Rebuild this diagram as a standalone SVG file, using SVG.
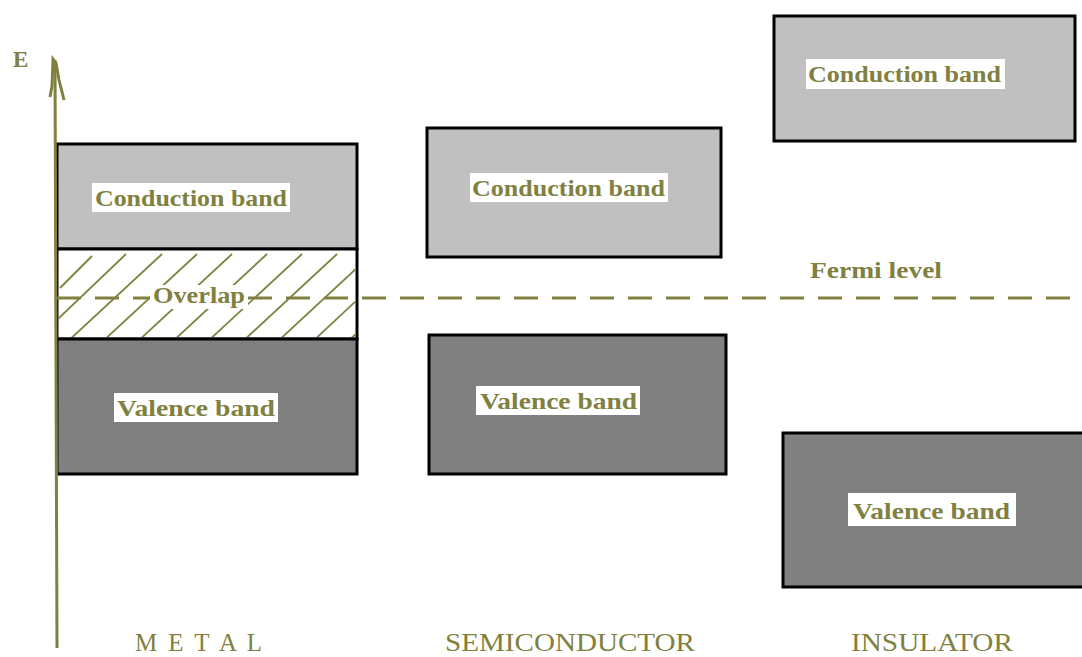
<svg xmlns="http://www.w3.org/2000/svg" width="1082" height="657" viewBox="0 0 1082 657">
<style>
.cb{fill:#c0c0c0;stroke:#000;stroke-width:3}
.vb{fill:#808080;stroke:#000;stroke-width:3}
.ov{fill:#fff;stroke:#000;stroke-width:3}
.lb{fill:#fff}
.t{font-family:"Liberation Serif",serif;font-weight:bold;font-size:23px;fill:#808040}
.b{font-family:"Liberation Serif",serif;font-size:25px;fill:#808040}
.ax{stroke:#808040;stroke-width:3;fill:none}
.h{stroke:#808040;stroke-width:1.8}
</style>
<defs>
<clipPath id="ovclip"><rect x="59" y="251" width="296" height="86"/></clipPath>
</defs>
<rect width="1082" height="657" fill="#fff"/>

<g id="metal">
<rect class="cb" x="57" y="144" width="300" height="105"/>
<rect class="ov" x="57" y="249" width="300" height="90"/>
<rect class="vb" x="57" y="339" width="300" height="135"/>
<g clip-path="url(#ovclip)">
<line class="h" x1="60" y1="288" x2="92" y2="256"/>
<line class="h" x1="58" y1="319" x2="126" y2="254"/>
<line class="h" x1="66" y1="343" x2="162" y2="254"/>
<line class="h" x1="101" y1="343" x2="197" y2="254"/>
<line class="h" x1="136" y1="343" x2="232" y2="254"/>
<line class="h" x1="171" y1="343" x2="267" y2="254"/>
<line class="h" x1="206" y1="343" x2="302" y2="254"/>
<line class="h" x1="241" y1="343" x2="337" y2="254"/>
<line class="h" x1="276" y1="343" x2="372" y2="254"/>
<line class="h" x1="311" y1="343" x2="372" y2="286"/>
<line class="h" x1="346" y1="343" x2="372" y2="319"/>
</g>
<rect class="lb" x="150" y="285" width="98" height="24"/>
<rect class="lb" x="92" y="183" width="198" height="29"/>
<text class="t" x="95" y="206" textLength="192" lengthAdjust="spacingAndGlyphs">Conduction band</text>
<text class="t" x="153" y="303" textLength="92" lengthAdjust="spacingAndGlyphs">Overlap</text>
<rect class="lb" x="114" y="393" width="164" height="29"/>
<text class="t" x="117" y="416" textLength="158" lengthAdjust="spacingAndGlyphs">Valence band</text>
</g>

<g id="semiconductor">
<rect class="cb" x="427" y="128" width="294" height="129"/>
<rect class="lb" x="470" y="173" width="198" height="29"/>
<text class="t" x="472" y="196" textLength="193" lengthAdjust="spacingAndGlyphs">Conduction band</text>
<rect class="vb" x="429" y="335" width="297" height="139"/>
<rect class="lb" x="476" y="386" width="164" height="29"/>
<text class="t" x="480" y="409" textLength="157" lengthAdjust="spacingAndGlyphs">Valence band</text>
</g>

<g id="insulator">
<rect class="cb" x="774" y="16" width="301" height="125"/>
<rect class="lb" x="806" y="59" width="199" height="30"/>
<text class="t" x="808" y="82" textLength="193" lengthAdjust="spacingAndGlyphs">Conduction band</text>
<rect class="vb" x="783" y="433" width="302" height="154"/>
<rect class="lb" x="848" y="493" width="168" height="33"/>
<text class="t" x="853" y="519" textLength="157" lengthAdjust="spacingAndGlyphs">Valence band</text>
</g>

<g id="connectors">
<line class="ax" x1="57" y1="648" x2="55" y2="60"/>
<path class="ax" stroke-width="2.5" d="M50,97 L52,86 L53,59 L56,63 L59,80 L64,100"/>
<line stroke="#808040" stroke-width="3" stroke-dasharray="24 14" x1="57" y1="298" x2="150" y2="298"/>
<line stroke="#808040" stroke-width="3" stroke-dasharray="24 14" x1="248" y1="298" x2="1082" y2="298"/>
</g>

<g id="labels">
<text class="t" x="13" y="67" font-size="22">E</text>
<text class="t" x="810" y="278" textLength="132" lengthAdjust="spacingAndGlyphs">Fermi level</text>
<text class="b" x="135" y="651" textLength="127" lengthAdjust="spacing">M E T A L</text>
<text class="b" x="445" y="651" textLength="250" lengthAdjust="spacingAndGlyphs">SEMICONDUCTOR</text>
<text class="b" x="851" y="651" textLength="162" lengthAdjust="spacingAndGlyphs">INSULATOR</text>
</g>
</svg>
